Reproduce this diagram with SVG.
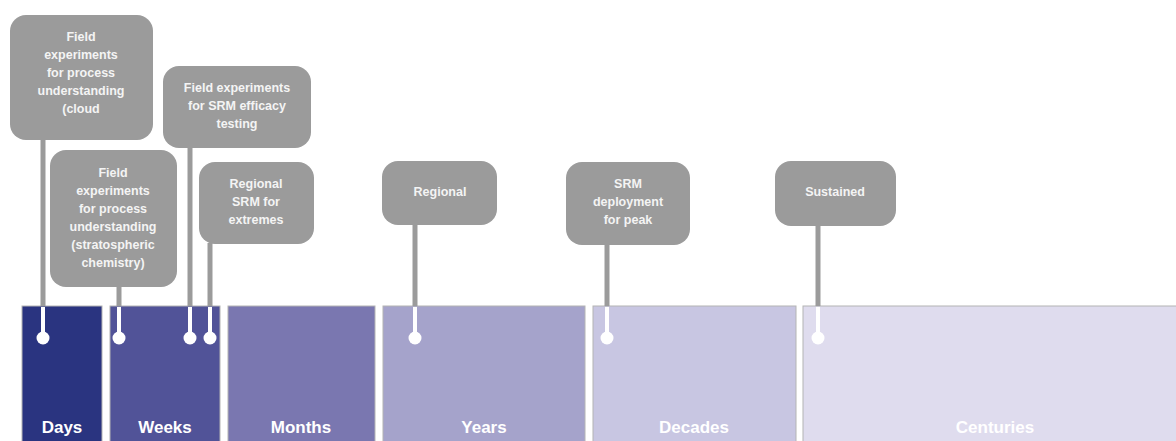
<svg xmlns="http://www.w3.org/2000/svg" width="1176" height="441" viewBox="0 0 1176 441">
<style>
.bar{stroke:#b4b4b4;stroke-width:1}
.box{fill:#9b9b9b}
.bt{font-family:"Liberation Sans",Arial,sans-serif;font-weight:700;font-size:12.5px;fill:#f4f4f4;text-anchor:middle}
.lt{font-family:"Liberation Sans",Arial,sans-serif;font-weight:700;font-size:17px;fill:#ffffff;text-anchor:middle}
.stem{stroke:#9b9b9b;stroke-width:5;fill:none}
.wstem{stroke:#ffffff;stroke-width:4;fill:none}
.dot{fill:#ffffff}
</style>
<rect width="1176" height="441" fill="#ffffff"/>
<g id="bars">
<g id="days"><rect class="bar" x="22" y="306" width="80" height="140" fill="#2a3480"/><text class="lt" x="62" y="433">Days</text></g>
<g id="weeks"><rect class="bar" x="110" y="306" width="110" height="140" fill="#515398"/><text class="lt" x="165" y="433">Weeks</text></g>
<g id="months"><rect class="bar" x="228" y="306" width="147" height="140" fill="#7a77b0"/><text class="lt" x="301" y="433">Months</text></g>
<g id="years"><rect class="bar" x="383" y="306" width="202" height="140" fill="#a5a3cb"/><text class="lt" x="484" y="433">Years</text></g>
<g id="decades"><rect class="bar" x="593" y="306" width="203" height="140" fill="#c8c6e2"/><text class="lt" x="694" y="433">Decades</text></g>
<g id="centuries"><rect class="bar" x="803" y="306" width="380" height="140" fill="#dfdcee"/><text class="lt" x="995" y="433">Centuries</text></g>
</g>
<g id="connectors">
<line class="stem" x1="43" y1="139" x2="43" y2="306"/>
<line class="stem" x1="119" y1="286" x2="119" y2="306"/>
<line class="stem" x1="190" y1="147" x2="190" y2="306"/>
<line class="stem" x1="210" y1="243" x2="210" y2="306"/>
<line class="stem" x1="415" y1="224" x2="415" y2="306"/>
<line class="stem" x1="607" y1="244" x2="607" y2="306"/>
<line class="stem" x1="818" y1="225" x2="818" y2="306"/>
<g>
<line class="wstem" x1="43" y1="307" x2="43" y2="337"/><circle class="dot" cx="43" cy="338" r="6.5"/>
<line class="wstem" x1="119" y1="307" x2="119" y2="337"/><circle class="dot" cx="119" cy="338" r="6.5"/>
<line class="wstem" x1="190" y1="307" x2="190" y2="337"/><circle class="dot" cx="190" cy="338" r="6.5"/>
<line class="wstem" x1="210" y1="307" x2="210" y2="337"/><circle class="dot" cx="210" cy="338" r="6.5"/>
<line class="wstem" x1="415" y1="307" x2="415" y2="337"/><circle class="dot" cx="415" cy="338" r="6.5"/>
<line class="wstem" x1="607" y1="307" x2="607" y2="337"/><circle class="dot" cx="607" cy="338" r="6.5"/>
<line class="wstem" x1="818" y1="307" x2="818" y2="337"/><circle class="dot" cx="818" cy="338" r="6.5"/>
</g>
</g>
<g id="box-cloud"><rect class="box" x="10" y="15" width="143" height="125" rx="16"/>
<text class="bt" x="81"><tspan x="81" y="41">Field</tspan><tspan x="81" y="59">experiments</tspan><tspan x="81" y="77">for process</tspan><tspan x="81" y="95">understanding</tspan><tspan x="81" y="113">(cloud</tspan></text></g>
<g id="box-strat"><rect class="box" x="50" y="150" width="127" height="137" rx="16"/>
<text class="bt" x="113"><tspan x="113" y="177">Field</tspan><tspan x="113" y="195">experiments</tspan><tspan x="113" y="213">for process</tspan><tspan x="113" y="231">understanding</tspan><tspan x="113" y="249">(stratospheric</tspan><tspan x="113" y="267">chemistry)</tspan></text></g>
<g id="box-efficacy"><rect class="box" x="163" y="66" width="148" height="82" rx="16"/>
<text class="bt" x="237"><tspan x="237" y="92">Field experiments</tspan><tspan x="237" y="110">for SRM efficacy</tspan><tspan x="237" y="128">testing</tspan></text></g>
<g id="box-extremes"><rect class="box" x="199" y="162" width="115" height="82" rx="16"/>
<text class="bt" x="256"><tspan x="256" y="188">Regional</tspan><tspan x="256" y="206">SRM for</tspan><tspan x="256" y="224">extremes</tspan></text></g>
<g id="box-regional"><rect class="box" x="382" y="161" width="115" height="64" rx="16"/>
<text class="bt" x="440" y="196">Regional</text></g>
<g id="box-peak"><rect class="box" x="566" y="162" width="124" height="83" rx="16"/>
<text class="bt" x="628"><tspan x="628" y="188">SRM</tspan><tspan x="628" y="206">deployment</tspan><tspan x="628" y="224">for peak</tspan></text></g>
<g id="box-sustained"><rect class="box" x="775" y="161" width="121" height="65" rx="16"/>
<text class="bt" x="835" y="196">Sustained</text></g>
</svg>
